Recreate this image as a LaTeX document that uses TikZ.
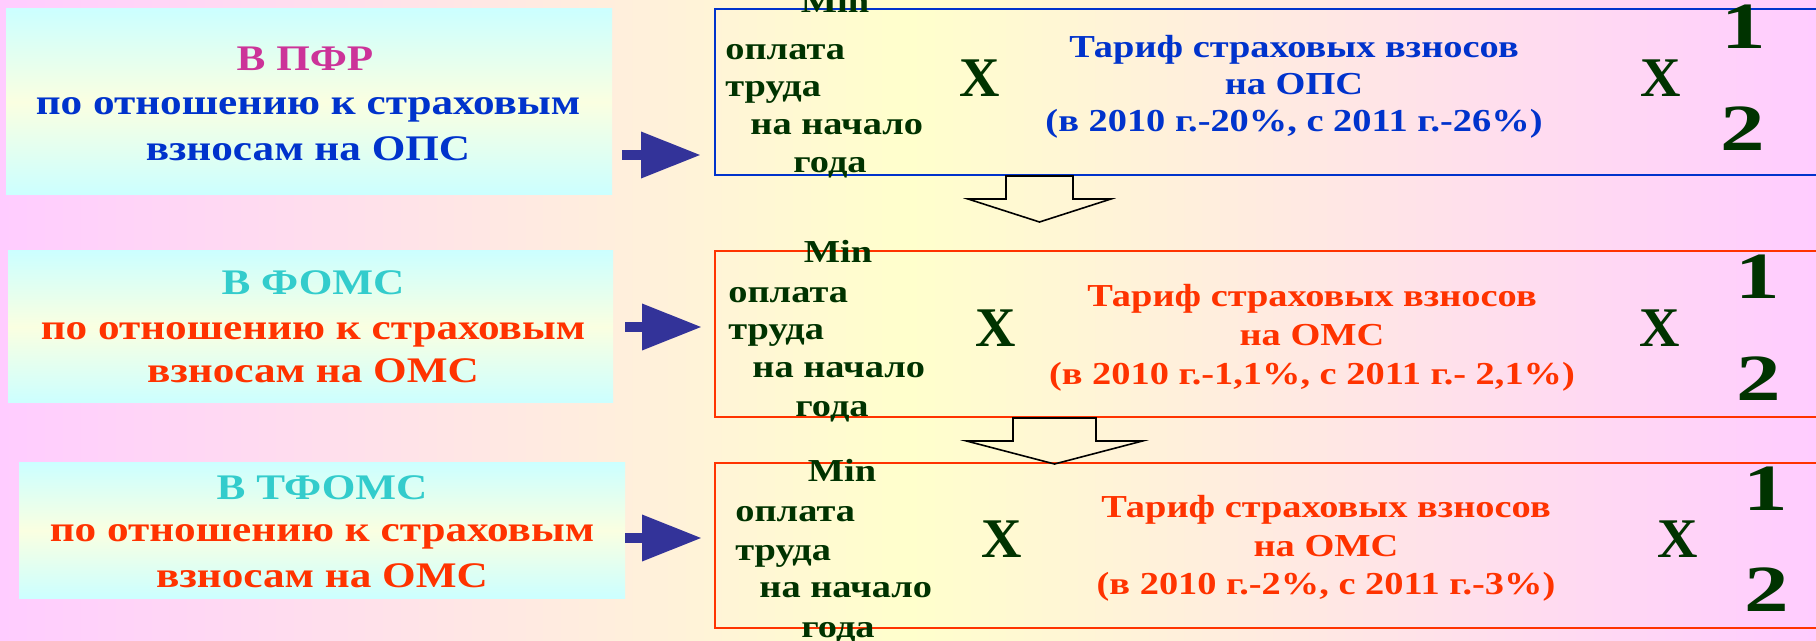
\documentclass[tikz,border=0pt]{standalone}
\usepackage{fontspec}
\setmainfont{Liberation Serif}
\newfontfamily\wf{Liberation Serif}[FakeStretch=1.2]
\newfontfamily\df{Liberation Serif}[FakeStretch=1.35]
\usetikzlibrary{arrows.meta,calc}
\definecolor{pinkbg}{RGB}{255,204,255}
\definecolor{yellowbg}{RGB}{255,255,204}
\definecolor{cyanbg}{RGB}{204,255,255}
\definecolor{lightyel}{RGB}{250,255,225}
\definecolor{blueT}{RGB}{0,51,204}
\definecolor{magT}{RGB}{204,51,153}
\definecolor{cyanT}{RGB}{51,204,204}
\definecolor{redT}{RGB}{255,51,0}
\definecolor{greenT}{RGB}{0,51,0}
\definecolor{arrowC}{RGB}{51,51,153}
\begin{document}
\begin{tikzpicture}[x=0.5pt,y=-0.5pt,
  lbox/.style={rectangle,inner sep=0pt,top color=cyanbg,bottom color=cyanbg,middle color=lightyel},
  rbox/.style={rectangle,draw,line width=1pt,inner sep=0pt,minimum width=555pt},
  ltxt/.style={inner sep=0pt,anchor=base,font=\wf\bfseries\fontsize{18pt}{22pt}\selectfont},
  gtxt/.style={inner sep=0pt,anchor=base west,text=greenT,font=\wf\bfseries\fontsize{16pt}{19pt}\selectfont},
  mtxt/.style={gtxt,anchor=base},
  ttxt/.style={inner sep=0pt,anchor=base,font=\wf\bfseries\fontsize{16pt}{19pt}\selectfont},
  bigx/.style={inner sep=0pt,text=greenT,font=\bfseries\fontsize{28pt}{32pt}\selectfont},
  digit/.style={inner sep=0pt,text=greenT,font=\df\bfseries\fontsize{33pt}{38pt}\selectfont},
  blockarrow/.style={draw=arrowC,line width=5pt,-{Triangle[length=30pt,width=22pt]}},
  hollowarrow/.style={draw=black,line width=0.8pt,line join=miter}
]
\useasboundingbox (0,0) rectangle (1816,641);
\shade[left color=pinkbg,right color=pinkbg,middle color=yellowbg] (0,0) rectangle (1816,641);

% left boxes
\node[lbox,minimum width=303pt,minimum height=93pt] (lb1) at (309,102) {};
\node[lbox,minimum width=302.5pt,minimum height=76pt] (lb2) at (310.5,327) {};
\node[lbox,minimum width=303pt,minimum height=67.5pt] (lb3) at (322,530.5) {};

% right boxes
\node[rbox,draw=blueT,minimum height=83pt] (rb1) at (1270,92) {};
\node[rbox,draw=redT,minimum height=83pt] (rb2) at (1270,334) {};
\node[rbox,draw=redT,minimum height=82.5pt] (rb3) at (1270,545.5) {};

% left texts
\node[ltxt,text=magT] (l11) at (305,71) {В ПФР};
\node[ltxt,text=blueT] (l12) at (308,115) {по отношению к страховым};
\node[ltxt,text=blueT] (l13) at (308,161) {взносам на ОПС};
\node[ltxt,text=cyanT] (l21) at (313,295) {В ФОМС};
\node[ltxt,text=redT] (l22) at (313,340) {по отношению к страховым};
\node[ltxt,text=redT] (l23) at (313,383) {взносам на ОМС};
\node[ltxt,text=cyanT] (l31) at (322,500) {В ТФОМС};
\node[ltxt,text=redT] (l32) at (322,542) {по отношению к страховым};
\node[ltxt,text=redT] (l33) at (322,588) {взносам на ОМС};

% green texts box 1
\node[mtxt] (m1) at (835,13) {Min};
\node[gtxt] (o1) at (725,60) {оплата};
\node[gtxt] (t1) at (725,97) {труда};
\node[gtxt] (n1) at (750,135) {на начало};
\node[gtxt] (g1) at (793,173) {года};
% box 2
\node[mtxt] (m2) at (838,263) {Min};
\node[gtxt] (o2) at (728,303) {оплата};
\node[gtxt] (t2) at (728,340) {труда};
\node[gtxt] (n2) at (752,378) {на начало};
\node[gtxt] (g2) at (795,417) {года};
% box 3
\node[mtxt] (m3) at (842,482) {Min};
\node[gtxt] (o3) at (735,522) {оплата};
\node[gtxt] (t3) at (735,560) {труда};
\node[gtxt] (n3) at (759,597) {на начало};
\node[gtxt] (g3) at (801,637) {года};

% X signs
\node[bigx] (x11) at (980,78) {X};
\node[bigx] (x12) at (1661,78) {X};
\node[bigx] (x21) at (996,328) {X};
\node[bigx] (x22) at (1660,328) {X};
\node[bigx] (x31) at (1002,539) {X};
\node[bigx] (x32) at (1678,539) {X};

% digits
\node[digit] (d11) at (1744,27) {1};
\node[digit] (d12) at (1743,129) {2};
\node[digit] (d21) at (1758,277) {1};
\node[digit] (d22) at (1759,379) {2};
\node[digit] (d31) at (1766,489) {1};
\node[digit] (d32) at (1767,590) {2};

% tariff texts
\node[ttxt,text=blueT] (tr11) at (1294,58) {Тариф страховых взносов};
\node[ttxt,text=blueT] (tr12) at (1294,95) {на ОПС};
\node[ttxt,text=blueT] (tr13) at (1294,132) {(в 2010 г.-20\%, с 2011 г.-26\%)};
\node[ttxt,text=redT] (tr21) at (1312,307) {Тариф страховых взносов};
\node[ttxt,text=redT] (tr22) at (1312,346) {на ОМС};
\node[ttxt,text=redT] (tr23) at (1312,385) {(в 2010 г.-1,1\%, с 2011 г.- 2,1\%)};
\node[ttxt,text=redT] (tr31) at (1326,518) {Тариф страховых взносов};
\node[ttxt,text=redT] (tr32) at (1326,557) {на ОМС};
\node[ttxt,text=redT] (tr33) at (1326,595) {(в 2010 г.-2\%, с 2011 г.-3\%)};

% block arrows
\coordinate (a1) at (0,155);
\coordinate (a2) at (0,327);
\coordinate (a3) at (0,538);
\draw[blockarrow,shorten <=5pt,shorten >=6.5pt] (lb1.east |- a1) -- (rb1.west |- a1);
\draw[blockarrow,shorten <=6pt,shorten >=6pt] (lb2.east |- a2) -- (rb2.west |- a2);
\draw[blockarrow,shorten >=6pt] (lb3.east |- a3) -- (rb3.west |- a3);

% hollow down arrows
\path (rb1.south west) ++(325.5,0) coordinate (h1);
\path (rb2.south west) ++(340.5,0) coordinate (h2);
\begin{scope}[shift={(h1)}]
\draw[hollowarrow] (-33.5,0) -- (33.5,0) -- (33.5,23) -- (71.5,23) -- (0,46) -- (-71.5,23) -- (-33.5,23) -- cycle;
\end{scope}
\begin{scope}[shift={(h2)}]
\draw[hollowarrow] (-41.5,0) -- (41.5,0) -- (41.5,23) -- (88,23) -- (0,46) -- (-88,23) -- (-41.5,23) -- cycle;
\end{scope}
\end{tikzpicture}
\end{document}
